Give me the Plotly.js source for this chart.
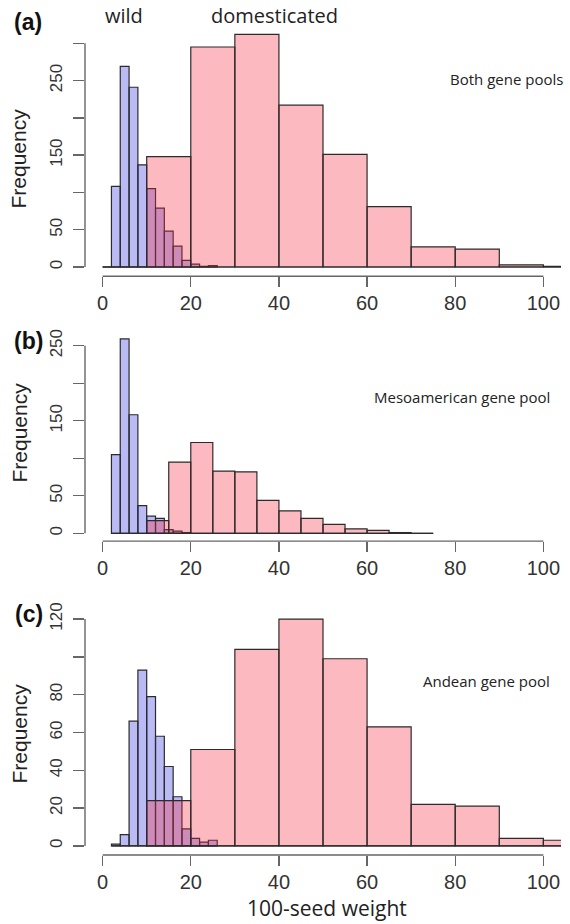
<!DOCTYPE html>
<html>
<head>
<meta charset="utf-8">
<script src="https://cdn.plot.ly/plotly-3.0.1.min.js"></script>
<style>html,body{margin:0;padding:0;background:#fff;}</style>
</head>
<body>
<div id="chart" style="width:570px;height:924px;"></div>
<script>
// ---------- DATA ----------
// Panel (a) Both gene pools
const wildA_start = 0, wildA_width = 2;
const wildA_counts = [0, 108, 269, 241, 137, 105, 79, 48, 28, 9, 4, 1, 2];
const domA_start = 0, domA_width = 10;
const domA_counts = [0, 148, 295, 312, 217, 151, 81, 27, 24, 3, 1];
// Panel (b) Mesoamerican gene pool
const wildB_start = 2, wildB_width = 2;
const wildB_counts = [105, 259, 158, 37, 23, 20, 5, 3, 1];
const domB_start = 10, domB_width = 5;
const domB_counts = [17, 95, 121, 83, 82, 44, 30, 20, 12, 6, 4, 1, 0];
// Panel (c) Andean gene pool
const wildC_start = 2, wildC_width = 2;
const wildC_counts = [1, 6, 66, 93, 79, 58, 42, 26, 9, 4, 2, 3];
const domC_start = 10, domC_width = 10;
const domC_counts = [24, 51, 104, 120, 99, 63, 22, 21, 4, 3];

const xTickVals = [0, 20, 40, 60, 80, 100];
const yTicksA = [0, 50, 100, 150, 200, 250, 300];
const yLabelsA = ['0', '50', '', '150', '', '250', ''];
const yTicksB = [0, 50, 100, 150, 200, 250];
const yLabelsB = ['0', '50', '', '150', '', '250'];
const yTicksC = [0, 20, 40, 60, 80, 100, 120];
const yLabelsC = ['0', '20', '40', '60', '80', '', '120'];

const panelLabels = ['(a)', '(b)', '(c)'];
const poolLabels = ['Both gene pools', 'Mesoamerican gene pool', 'Andean gene pool'];
const groupLabels = ['wild', 'domesticated'];
const xTitle = '100-seed weight';
const yTitle = 'Frequency';

// ---------- STYLE ----------
const W = 570, H = 924;
const M = {l: 85.4, r: 9.4, t: 25, b: 69};
const plotW = W - M.l - M.r, plotH = H - M.t - M.b;
const xp = px => (px - M.l) / plotW;
const yp = py => (H - M.b - py) / plotH;

const wildFill = 'rgba(40,40,225,0.32)';
const domFill = 'rgba(245,40,60,0.32)';
const edge = '#2b2b2b';
const axisCol = '#666';
const tickFont = 'Liberation Sans, Arial, sans-serif';
const textFont = 'Open Sans, Noto Sans, sans-serif';

function barTrace(start, width, counts, fill, xa, ya) {
  return {
    type: 'bar',
    x: counts.map((_, i) => start + (i + 0.5) * width),
    y: counts,
    width: counts.map(() => width),
    marker: {color: fill, line: {color: edge, width: 1.2}},
    xaxis: xa, yaxis: ya, hoverinfo: 'x+y', showlegend: false
  };
}
function baseline(sets, xa, ya) {
  let lo = Infinity, hi = -Infinity;
  sets.forEach(([s, w, c]) => { lo = Math.min(lo, s); hi = Math.max(hi, s + w * c.length); });
  return {type: 'scatter', mode: 'lines', x: [lo, hi], y: [0, 0],
    line: {color: edge, width: 1.2}, xaxis: xa, yaxis: ya, hoverinfo: 'skip', showlegend: false};
}

const traces = [
  barTrace(wildA_start, wildA_width, wildA_counts, wildFill, 'x', 'y'),
  barTrace(domA_start, domA_width, domA_counts, domFill, 'x', 'y'),
  baseline([[domA_start, domA_width, domA_counts], [wildA_start, wildA_width, wildA_counts]], 'x', 'y'),
  barTrace(wildB_start, wildB_width, wildB_counts, wildFill, 'x2', 'y2'),
  barTrace(domB_start, domB_width, domB_counts, domFill, 'x2', 'y2'),
  baseline([[domB_start, domB_width, domB_counts], [wildB_start, wildB_width, wildB_counts]], 'x2', 'y2'),
  barTrace(wildC_start, wildC_width, wildC_counts, wildFill, 'x3', 'y3'),
  barTrace(domC_start, domC_width, domC_counts, domFill, 'x3', 'y3'),
  baseline([[domC_start, domC_width, domC_counts], [wildC_start, wildC_width, wildC_counts]], 'x3', 'y3')
];

function yRange(a, b) {
  const mx = Math.max(...a, ...b);
  return [-0.04 * mx, 1.04 * mx];
}
function xAxis(anchor) {
  return {anchor: anchor, range: [-4, 104], showline: false, showgrid: false, zeroline: false,
    tickmode: 'array', tickvals: xTickVals, ticktext: xTickVals.map(String),
    ticks: 'outside', ticklen: 10, tickwidth: 1.4, tickcolor: axisCol, ticklabelstandoff: -1,
    tickfont: {family: tickFont, size: 20, color: '#333'}, fixedrange: true};
}
function yAxis(anchor, domain, rng, vals, labels) {
  return {anchor: anchor, domain: domain, range: rng, showline: false, showgrid: false, zeroline: false,
    tickmode: 'array', tickvals: vals, ticktext: labels, tickangle: -90,
    ticks: 'outside', ticklen: 11, tickwidth: 1.4, tickcolor: axisCol, ticklabelstandoff: 4,
    tickfont: {family: tickFont, size: 17, color: '#333'}, fixedrange: true};
}

const shapes = [];
[['x', 'y', yTicksA], ['x2', 'y2', yTicksB], ['x3', 'y3', yTicksC]].forEach(([xa, ya, yt]) => {
  shapes.push({type: 'line', xref: xa, yref: ya + ' domain', x0: xTickVals[0], x1: xTickVals[xTickVals.length - 1], y0: 0, y1: 0,
    line: {color: axisCol, width: 1.4}});
  shapes.push({type: 'line', xref: xa + ' domain', yref: ya, x0: 0, x1: 0, y0: yt[0], y1: yt[yt.length - 1],
    line: {color: axisCol, width: 1.4}});
});

const ann = [];
function addText(text, px, py, size, opts) {
  ann.push(Object.assign({text: text, xref: 'paper', yref: 'paper', x: xp(px), y: yp(py),
    xanchor: 'center', yanchor: 'middle', showarrow: false,
    font: {family: textFont, size: size, color: '#222'}}, opts || {}));
}
const labelPos = [[28, 22], [29, 341], [29, 614]];
panelLabels.forEach((t, i) => addText('<b>' + t + '</b>', labelPos[i][0], labelPos[i][1], 23,
  {font: {family: tickFont, size: 23, color: '#111'}}));
addText(groupLabels[0], 124, 16, 20);
addText(groupLabels[1], 275, 16, 20);
const poolPos = [[565, 79], [552, 397], [552, 681]];
poolLabels.forEach((t, i) => addText(t, poolPos[i][0], poolPos[i][1], 15, {xanchor: 'right'}));
[158, 432, 733].forEach(py => addText(yTitle, 20, py, 21,
  {textangle: -90, font: {family: tickFont, size: 21, color: '#222'}}));
addText(xTitle, 327, 908, 21);

const layout = {
  width: W, height: H, margin: M, paper_bgcolor: '#fff', plot_bgcolor: '#fff',
  barmode: 'overlay', bargap: 0, showlegend: false,
  xaxis: xAxis('y'), xaxis2: xAxis('y2'), xaxis3: xAxis('y3'),
  yaxis: yAxis('x', [0.6972, 1.0], yRange(wildA_counts, domA_counts), yTicksA, yLabelsA),
  yaxis2: yAxis('x2', [0.3782, 0.6311], yRange(wildB_counts, domB_counts), yTicksB, yLabelsB),
  yaxis3: yAxis('x3', [0.0, 0.2952], yRange(wildC_counts, domC_counts), yTicksC, yLabelsC),
  shapes: shapes, annotations: ann
};
Plotly.newPlot('chart', traces, layout, {displayModeBar: false, staticPlot: true});
</script>
</body>
</html>
